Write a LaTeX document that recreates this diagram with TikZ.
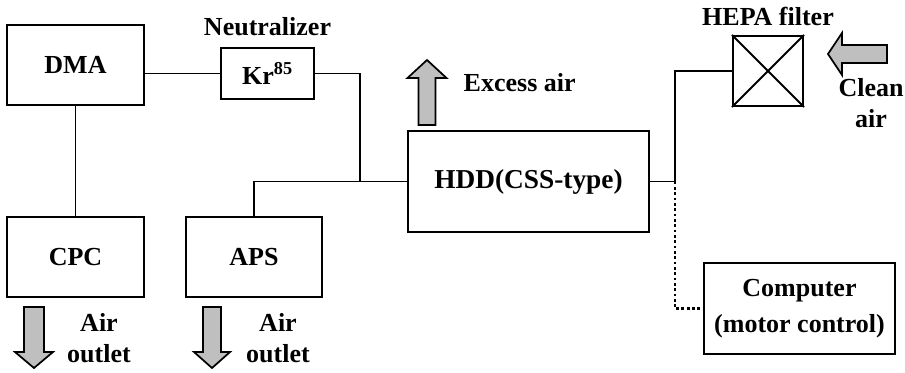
\documentclass[tikz,border=0pt]{standalone}
\usepackage{fontspec}
\setmainfont{Liberation Serif}
\usetikzlibrary{positioning}
\begin{document}
\begin{tikzpicture}[x=0.75pt, y=-0.75pt,
    every node/.style={font=\bfseries\fontsize{19.5}{23}\selectfont},
    box/.style={draw, line width=1.6pt, inner sep=0pt},
    pipe/.style={line width=1.4pt},
    airflow/.style={draw, line width=1.3pt, fill=gray!50}]
                \useasboundingbox (0, 0) rectangle (905, 372);

                \node[box, minimum width=102.75pt, minimum height=60pt] (dma) at (75.5, 65) {DMA};

                \node[box, minimum width=69.75pt, minimum height=38.25pt] (kr) at (267.5, 73.5) {Kr\textsuperscript{85}};

                \node[above=5pt of kr] (neutralizer) {Neutralizer};

                \node[box, minimum width=102.75pt, minimum height=60pt] (cpc) at (75.5, 257) {CPC};

                \node[box, minimum width=102pt, minimum height=60pt] (aps) at (254, 257) {APS};

                \node[box, minimum width=180.75pt, minimum height=75.75pt,
                      font=\bfseries\fontsize{20.5}{24}\selectfont] (hdd) at (528.5, 181.5) {HDD(CSS-type)};

                \node[box, minimum width=52.5pt, minimum height=52.5pt] (hepa) at (768, 71) {};

                \draw[line width=1.4pt] (hepa.north west) -- (hepa.south east) (hepa.north east) -- (hepa.south west);

                \node[above=3pt of hepa] (hepalabel) {HEPA filter};

                \node[box, minimum width=143.25pt, minimum height=68.25pt, align=center,
                      font=\bfseries\fontsize{19.5}{27}\selectfont] (computer) at (799.5, 308.5) {Computer\\(motor control)};

                \coordinate (krjoin) at (360, 181.5);

                \coordinate (tee) at (675, 181.5);

                \draw[pipe] (kr.west) -- (kr.west -| dma.east);

                \draw[pipe] (dma) -- (cpc);

                \draw[pipe] (kr.east) -| (krjoin);

                \draw[pipe] (aps.north) |- (hdd.west);

                \draw[pipe] (hdd.east) -- (tee) |- (hepa.west);

                \draw[line width=2.2pt, dash pattern=on 2.2pt off 1.8pt] (tee) |- (computer.west);

                % air flows
                \draw[airflow] (418.5, 125) -- (418.5, 78) -- (407.5, 78) -- (427, 60) -- (446.5, 78) -- (435.5, 78) -- (435.5, 125) -- cycle;

                \node[anchor=west] (excess) at (459, 83) {Excess air};

                \draw[airflow] (887, 45) -- (842, 45) -- (842, 33) -- (828, 54) -- (842, 75) -- (842, 63) -- (887, 63) -- cycle;

                \node[align=center] (clean) at (871, 103) {Clean\\air};

                \draw[airflow] (24, 307) -- (24, 352) -- (15, 352) -- (34, 368) -- (53, 352) -- (44, 352) -- (44, 307) -- cycle;

                \node[align=center] (cpcout) at (99, 338) {Air\\outlet};

                \draw[airflow] (203, 307) -- (203, 352) -- (194, 352) -- (212, 368) -- (230, 352) -- (221, 352) -- (221, 307) -- cycle;

                \node[align=center] (apsout) at (278, 338) {Air\\outlet};
            \end{tikzpicture}
\end{document}
